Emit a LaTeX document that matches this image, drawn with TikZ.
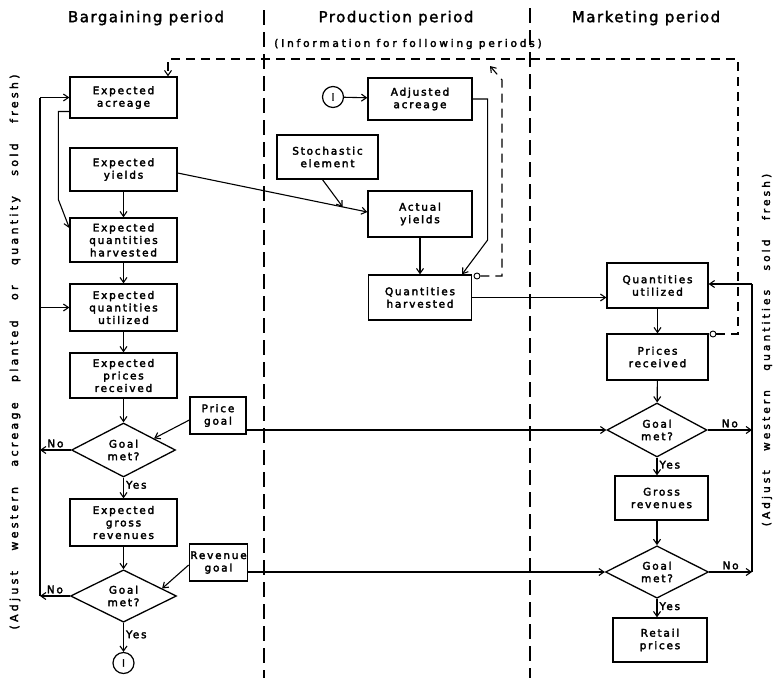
\documentclass[tikz,border=0pt]{standalone}
\usepackage{fontspec}
\setmainfont{DejaVu Sans}
\newfontfamily\bxf{DejaVu Sans}[LetterSpace=17]
\newfontfamily\inff{DejaVu Sans}[LetterSpace=27]
\newfontfamily\ttlf{DejaVu Sans}[LetterSpace=10]
\newfontfamily\rotf{DejaVu Sans}[LetterSpace=30,WordSpace=3]
\newcommand\hvy[1]{\special{pdf:literal direct 2 Tr 0.3 w}#1\special{pdf:literal direct 0 Tr}}
\usetikzlibrary{arrows.meta,shapes.geometric,calc}
\begin{document}
\begin{tikzpicture}[x=1pt,y=-1pt,
  box/.style={draw, line width=1.3pt, align=center, inner sep=1pt,
    font=\bxf\fontsize{10.5}{12.5}\selectfont},
  dia/.style={draw, diamond, line width=1.3pt, align=center, inner sep=0pt,
    font=\bxf\fontsize{10.5}{12.5}\selectfont},
  lab/.style={font=\bxf\fontsize{10.5}{12}\selectfont, inner sep=2pt},
  ttl/.style={font=\ttlf\fontsize{15}{18}\selectfont},
  ln/.style={line width=1.1pt},
  arr/.style={line width=1.1pt, -{Straight Barb[length=5pt,width=7pt]}},
  dsh/.style={line width=1.1pt, dash pattern=on 9pt off 6pt},
  divl/.style={line width=1.4pt, dash pattern=on 15pt off 7pt},
  smc/.style={draw, circle, line width=0.9pt, minimum size=6pt, inner sep=0pt},
  bigc/.style={draw, circle, line width=1.2pt, minimum size=21pt, inner sep=0pt,
    font=\bxf\fontsize{10}{12}\selectfont},
  rtx/.style={rotate=90, font=\rotf\fontsize{11}{13}\selectfont}]
\useasboundingbox (0,0) rectangle (780,678);

% titles
\node[ttl] (t1) at (146,18) {\hvy{Bargaining period}};
\node[ttl] (t2) at (396,18) {\hvy{Production period}};
\node[ttl] (t3) at (646,18) {\hvy{Marketing period}};
\node[font=\inff\fontsize{10.5}{12}\selectfont] (info) at (408,44) {\hvy{(Information for following periods)}};

% dividers
\draw[divl] (264,10) -- (264,678);
\draw[divl] (530,8) -- (530,678);

% bargaining column
\node[box, minimum width=107pt, minimum height=41pt] (acr) at (123.5,97.5) {\hvy{Expected}\\\hvy{acreage}};
\node[box, minimum width=107pt, minimum height=43pt] (yld) at (123.5,169.5) {\hvy{Expected}\\\hvy{yields}};
\node[box, minimum width=107pt, minimum height=44pt] (qh) at (123.5,240) {\hvy{Expected}\\\hvy{quantities}\\\hvy{harvested}};
\node[box, minimum width=107pt, minimum height=47pt] (qu) at (123.5,307.5) {\hvy{Expected}\\\hvy{quantities}\\\hvy{utilized}};
\node[box, minimum width=107pt, minimum height=45pt] (pr) at (123.5,375.5) {\hvy{Expected}\\\hvy{prices}\\\hvy{received}};
\node[dia, minimum width=104pt, minimum height=54pt] (g1) at (123.5,450) {\hvy{Goal}\\\hvy{met\,?}};
\node[box, minimum width=56pt, minimum height=37pt] (pg) at (218,415.5) {\hvy{Price}\\\hvy{goal}};
\node[box, minimum width=107pt, minimum height=47pt] (grv) at (123.5,522.5) {\hvy{Expected}\\\hvy{gross}\\\hvy{revenues}};
\node[box, minimum width=57pt, minimum height=37pt] (rg) at (218.5,562.5) {\hvy{Revenue}\\\hvy{goal}};
\node[dia, minimum width=106pt, minimum height=52pt] (g2) at (123.5,596) {\hvy{Goal}\\\hvy{met\,?}};
\node[bigc] (c1) at (123.5,663) {\hvy{I}};

% production column
\node[bigc] (c2) at (333,97) {\hvy{I}};
\node[box, minimum width=104pt, minimum height=42pt] (adj) at (420,99) {\hvy{Adjusted}\\\hvy{acreage}};
\node[box, minimum width=101pt, minimum height=44pt] (sto) at (327.5,157) {\hvy{Stochastic}\\\hvy{element}};
\node[box, minimum width=104pt, minimum height=46pt] (act) at (420,214) {\hvy{Actual}\\\hvy{yields}};
\node[box, minimum width=103pt, minimum height=45pt] (qhv) at (420,297.5) {\hvy{Quantities}\\\hvy{harvested}};
\node[smc] (oq) at (477,276) {};

% marketing column
\node[box, minimum width=101pt, minimum height=45pt] (qut) at (657.5,285.5) {\hvy{Quantities}\\\hvy{utilized}};
\node[box, minimum width=101pt, minimum height=46pt] (prc) at (657.5,357) {\hvy{Prices}\\\hvy{received}};
\node[smc] (op) at (713,334) {};
\node[dia, minimum width=100pt, minimum height=54pt] (g3) at (657,430) {\hvy{Goal}\\\hvy{met\,?}};
\node[box, minimum width=93pt, minimum height=44pt] (grs) at (661.5,498) {\hvy{Gross}\\\hvy{revenues}};
\node[dia, minimum width=103pt, minimum height=52pt] (g4) at (657,572) {\hvy{Goal}\\\hvy{met?}};
\node[box, minimum width=94pt, minimum height=44pt] (ret) at (660,640) {\hvy{Retail}\\\hvy{prices}};

% rotated side texts
\node[rtx] (lt) at (15,352) {\hvy{(Adjust western acreage planted or quantity sold fresh)}};
\node[rtx, font=\rotf\fontsize{10.5}{13}\selectfont] (rt) at (767,350) {\hvy{(Adjust western quantities sold fresh)}};

% coordinates
\coordinate (fT) at (40,97.5);
\coordinate (fU) at (40,307.5);
\coordinate (fM) at (40,450);
\coordinate (fB) at (40,596);
\coordinate (rT) at (752,284);
\coordinate (rM) at (752,430);
\coordinate (rB) at (752,572);
\coordinate (dA) at (168,59);
\coordinate (dB) at (738,59);
\coordinate (dC) at (738,334);
\coordinate (dD) at (502,276);
\coordinate (dE) at (502,80);
\coordinate (dF) at (490,66);
\coordinate (ya) at ([yshift=-3.5pt]yld.east);
\coordinate (yb) at ([yshift=2pt]act.west);
\path (ya) -- (yb) coordinate[pos=0.87] (yj);

% bargaining connectors
\draw[arr] ([yshift=-14pt]acr.west) -- ++(-11,0) -- ++(0,88) -- ([yshift=12pt]qh.west);
\draw[arr] (yld) -- (qh);
\draw[arr] (qh) -- (qu);
\draw[arr] (qu) -- (pr);
\draw[arr] (pr) -- (g1);
\draw[arr] (g1) -- node[lab, right, pos=0.35] {\hvy{Yes}} (grv);
\draw[arr] (grv) -- (g2);
\draw[arr] (g2) -- node[lab, right, pos=0.4] {\hvy{Yes}} (c1);
\draw[arr] ([yshift=-4.5pt]pg.west) -- ($(g1.north)!0.58!(g1.east)$);
\draw[arr] ([yshift=-2.5pt]rg.west) -- ($(g2.north)!0.72!(g2.east)$);
\draw[arr] (pg.east |- g3.west) -- (g3.west);
\draw[arr] (rg.east |- g4.west) -- (g4.west);

% left feedback
\draw[ln] (fB) -- (fT);
\draw[arr] (fT) -- (acr.west);
\draw[arr] (fU) -- (qu.west);
\draw[arr] (g1.west) -- node[lab, above] {\hvy{No}} (fM);
\draw[arr] (g2.west) -- node[lab, above] {\hvy{No}} (fB);

% production connectors
\draw[arr] (ya) -- (yb);
\draw[arr] ([xshift=-5pt]sto.south) -- (yj);
\draw[arr] (c2) -- (adj);
\draw[arr] (act) -- (qhv);
\draw[arr] (adj.east) -- ++(15,0) -- ++(0,141) -- ([xshift=42pt]qhv.north);
\draw[dsh, arr] (oq.east) -- (dD) -- (dE) -- (dF);
\draw[arr] (qhv.east) -- (qhv.east -| qut.west);

% marketing connectors
\draw[arr] (qut) -- (prc);
\draw[arr] (prc) -- (g3);
\draw[arr] (g3) -- node[lab, right, pos=0.4] {\hvy{Yes}} (g3.south |- grs.north);
\draw[arr] (g3.south |- grs.south) -- (g4);
\draw[arr] (g4) -- node[lab, right, pos=0.4] {\hvy{Yes}} (g4.south |- ret.north);
\draw[arr] (g3.east) -- node[lab, above] {\hvy{No}} (rM);
\draw[arr] (g4.east) -- node[lab, above] {\hvy{No}} (rB);
\draw[ln] (rB) -- (rT);
\draw[arr] (rT) -- (rT -| qut.east);

% information dashed loop
\draw[dsh, arr] (op.east) -- (dC) -- (dB) -- (dA) -- (dA |- acr.north);
\end{tikzpicture}
\end{document}
